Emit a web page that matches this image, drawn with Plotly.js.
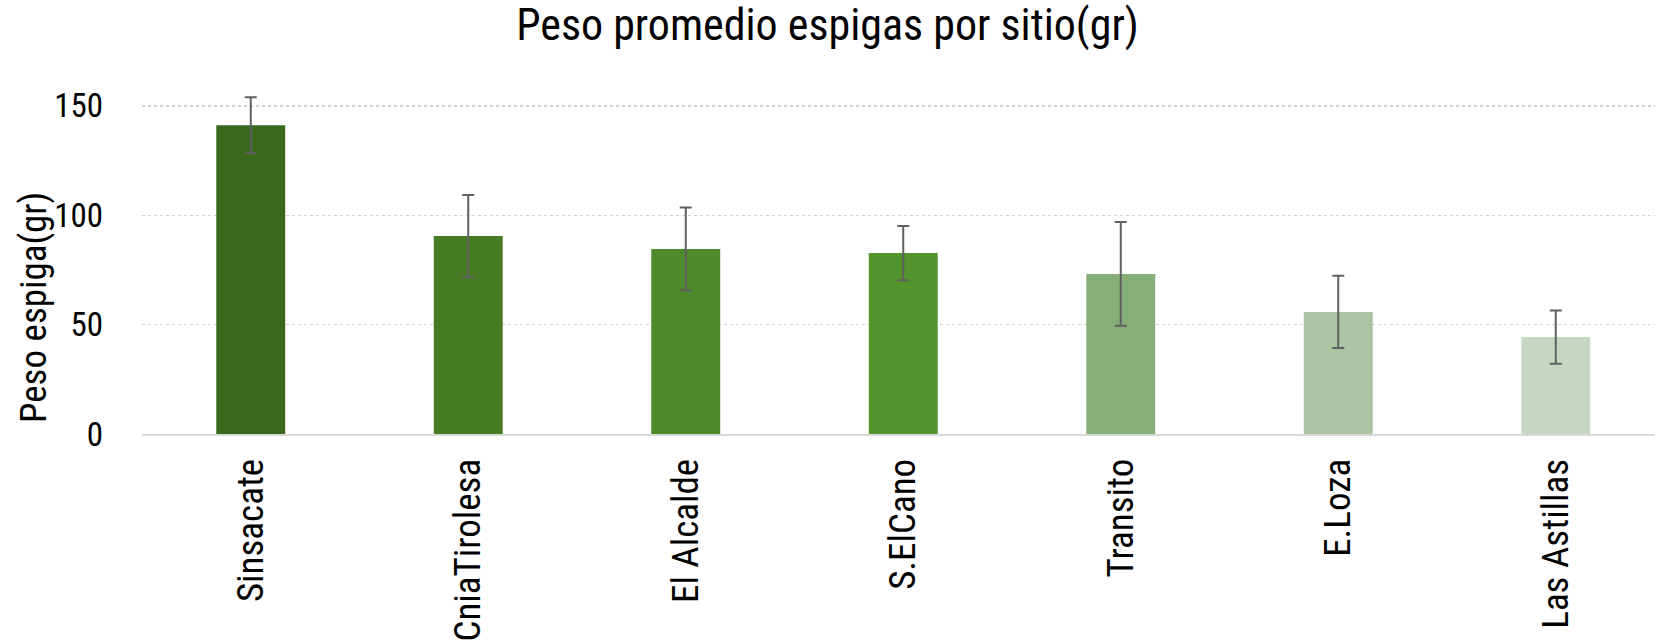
<!DOCTYPE html>
<html>
<head>
<meta charset="utf-8">
<script src="https://cdn.plot.ly/plotly-3.0.1.min.js"></script>
<style>
  html, body { margin: 0; padding: 0; background: #ffffff; }
  #chart { width: 1655px; height: 642px; }
</style>
</head>
<body>
<div id="chart"></div>
<script>
// ---- data ----
const sites = ["Sinsacate", "CniaTirolesa", "El Alcalde", "S.ElCano", "Transito", "E.Loza", "Las Astillas"];
const meanWeight = [141.2, 90.5, 84.6, 82.7, 73.2, 55.8, 44.3];
const stdError = [12.8, 18.8, 19.0, 12.4, 23.7, 16.5, 12.2];
const yTicks = [0, 50, 100, 150];

// ---- styles ----
const barColors = ["#3a691e", "#467a23", "#4f8a2a", "#54942d", "#87ae78", "#abc4a1", "#c6d6c2"];
const FONT = "'Roboto Condensed', Roboto, 'Liberation Sans', sans-serif";

const trace = {
  type: "bar",
  x: sites,
  y: meanWeight,
  marker: { color: barColors, line: { width: 0 } },
  error_y: {
    type: "data",
    array: stdError,
    visible: true,
    color: "#606060",
    thickness: 2,
    width: 6
  },
  hoverinfo: "x+y"
};

const plotW = 1655 - 142;
const catSpacing = 217.5;

const layout = {
  width: 1655,
  height: 642,
  margin: { l: 142, r: 0, t: 84, b: 208, pad: 0 },
  paper_bgcolor: "#ffffff",
  plot_bgcolor: "#ffffff",
  showlegend: false,
  bargap: 0.683,
  title: {
    text: "Peso promedio espigas por sitio(gr)",
    font: { family: FONT, size: 44, color: "#000000" },
    x: 0.5,
    xref: "container",
    xanchor: "center",
    y: 0.961,
    yref: "container",
    yanchor: "middle"
  },
  xaxis: {
    type: "category",
    range: [-0.5, -0.5 + plotW / catSpacing],
    tickangle: -90,
    ticks: "",
    ticklabelstandoff: 8,
    tickfont: { family: FONT, size: 37, color: "#000000" },
    showgrid: false,
    showline: true,
    linecolor: "#d9d9d9",
    linewidth: 2,
    zeroline: false,
    fixedrange: true
  },
  yaxis: {
    range: [0, 160],
    tickvals: yTicks,
    ticktext: yTicks.map(String),
    ticks: "",
    ticklabelstandoff: 38,
    tickfont: { family: FONT, size: 33, color: "#000000" },
    showgrid: true,
    gridcolor: "#d0d0d0",
    gridwidth: 1.3,
    griddash: "dot",
    zeroline: false,
    showline: false,
    fixedrange: true
  },
  annotations: [{
    text: "Peso espiga(gr)",
    textangle: -90,
    xref: "paper",
    yref: "paper",
    x: (33 - 142) / plotW,
    y: (434 - 308) / 350,
    xanchor: "center",
    yanchor: "middle",
    showarrow: false,
    font: { family: FONT, size: 37, color: "#000000" }
  }]
};

Plotly.newPlot("chart", [trace], layout, { displayModeBar: false, staticPlot: true });
</script>
</body>
</html>
